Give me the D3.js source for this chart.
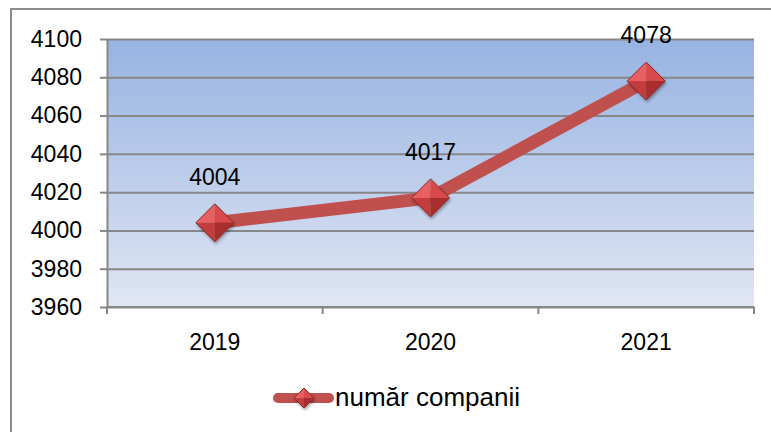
<!DOCTYPE html>
<html>
<head>
<meta charset="utf-8">
<script src="https://cdn.jsdelivr.net/npm/d3@7"></script>
<style>
  html, body { margin: 0; padding: 0; background: #fff; }
  svg { display: block; font-family: "Liberation Sans", Arial, sans-serif; }
</style>
</head>
<body>
<div id="chart"></div>
<script>
// data
var years = ["2019", "2020", "2021"];
var companies = [4004, 4017, 4078];
var yTicks = [3960, 3980, 4000, 4020, 4040, 4060, 4080, 4100];
var seriesName = "număr companii";

var width = 771, height = 432;
var plot = { left: 107, right: 754, top: 39, bottom: 307 };

var svg = d3.select("#chart").append("svg")
    .attr("width", width)
    .attr("height", height);

var defs = svg.append("defs");
// plot background gradient, darker blue at the top
var bg = defs.append("linearGradient").attr("id", "bg")
    .attr("x1", 0).attr("y1", 0).attr("x2", 0).attr("y2", 1);
bg.append("stop").attr("offset", "0%").attr("stop-color", "#97b3e2");
bg.append("stop").attr("offset", "100%").attr("stop-color", "#e0e6f3");

var shadow = defs.append("filter").attr("id", "shadow")
    .attr("x", "-30%").attr("y", "-30%").attr("width", "160%").attr("height", "160%");
shadow.append("feDropShadow").attr("dx", 1).attr("dy", 2)
    .attr("stdDeviation", 1.5).attr("flood-color", "#000").attr("flood-opacity", 0.35);

// scales
var x = d3.scaleBand().domain(years).range([plot.left, plot.right]);
var y = d3.scaleLinear().domain([3960, 4100]).range([plot.bottom, plot.top]);
var cx = function(d) { return x(d) + x.bandwidth() / 2; };

// outer chart frame (only top and left visible)
svg.append("path")
    .attr("d", "M11,432 V9 H771")
    .attr("fill", "none").attr("stroke", "#8c8c8c").attr("stroke-width", 2);

// plot area
svg.append("rect")
    .attr("x", plot.left).attr("y", plot.top)
    .attr("width", plot.right - plot.left).attr("height", plot.bottom - plot.top)
    .attr("fill", "url(#bg)");

// gridlines
svg.append("g")
    .attr("transform", "translate(" + plot.left + ",0)")
    .call(d3.axisLeft(y).tickValues(yTicks).tickSize(-(plot.right - plot.left)).tickFormat(""))
    .call(function(g) { g.select(".domain").remove(); })
    .selectAll("line").attr("stroke", "#878787").attr("stroke-width", 2);

// y axis
var yAxis = svg.append("g")
    .attr("transform", "translate(" + plot.left + ",0)")
    .call(d3.axisLeft(y).tickValues(yTicks).tickSize(7).tickSizeOuter(0).tickPadding(18).tickFormat(d3.format("d")));
yAxis.select(".domain").attr("stroke", "#878787").attr("stroke-width", 2);
yAxis.selectAll("line").attr("stroke", "#878787").attr("stroke-width", 2);
yAxis.selectAll("text").attr("font-size", 23).attr("fill", "#000")
    .attr("font-family", "'Liberation Sans', Arial, sans-serif");

// x axis, ticks between categories
var xAxis = svg.append("g");
xAxis.append("line")
    .attr("x1", plot.left).attr("x2", plot.right)
    .attr("y1", plot.bottom).attr("y2", plot.bottom)
    .attr("stroke", "#878787").attr("stroke-width", 2);
xAxis.selectAll(".xtick")
    .data(years.concat(["end"])).enter()
  .append("line")
    .attr("x1", function(d) { return d === "end" ? plot.right : x(d); })
    .attr("x2", function(d) { return d === "end" ? plot.right : x(d); })
    .attr("y1", plot.bottom).attr("y2", plot.bottom + 7)
    .attr("stroke", "#878787").attr("stroke-width", 2);
xAxis.selectAll(".xlabel")
    .data(years).enter()
  .append("text")
    .attr("x", cx).attr("y", plot.bottom + 43)
    .attr("text-anchor", "middle").attr("font-size", 23)
    .text(function(d) { return d; });

// diamond marker with a beveled look
function diamond(g, r) {
  var facets = [
    { d: [[-r, 0], [0, -r], [0, 0]], c: "#e86060" },
    { d: [[0, -r], [r, 0], [0, 0]], c: "#d84a4a" },
    { d: [[-r, 0], [0, 0], [0, r]], c: "#c43c3c" },
    { d: [[0, 0], [r, 0], [0, r]], c: "#a82e2e" }
  ];
  g.attr("filter", "url(#shadow)");
  g.selectAll("path.facet").data(facets).enter()
    .append("path").attr("class", "facet")
    .attr("d", function(f) { return "M" + f.d.join("L") + "Z"; })
    .attr("fill", function(f) { return f.c; });
  g.append("path")
    .attr("d", "M" + (-r) + ",0L0," + (-r) + "L" + r + ",0L0," + r + "Z")
    .attr("fill", "none").attr("stroke", "#8a2a2a").attr("stroke-width", 1);
}

// series line
var pts = years.map(function(d, i) { return { year: d, value: companies[i] }; });
svg.append("path")
    .datum(pts)
    .attr("d", d3.line().x(function(d) { return cx(d.year); }).y(function(d) { return y(d.value); }))
    .attr("fill", "none").attr("stroke", "#c0504d").attr("stroke-width", 13)
    .attr("stroke-linejoin", "round");

svg.selectAll(".marker")
    .data(pts).enter()
  .append("g")
    .attr("class", "marker")
    .attr("transform", function(d) { return "translate(" + cx(d.year) + "," + y(d.value) + ")"; })
    .each(function() { diamond(d3.select(this), 19); });

// data labels
svg.selectAll(".dlabel")
    .data(pts).enter()
  .append("text")
    .attr("x", function(d) { return cx(d.year); })
    .attr("y", function(d) { return y(d.value) - 38; })
    .attr("text-anchor", "middle").attr("font-size", 23)
    .text(function(d) { return d.value; });

// legend
var legend = svg.append("g").attr("transform", "translate(0,398)");
legend.append("line")
    .attr("x1", 278).attr("x2", 329).attr("y1", 0).attr("y2", 0)
    .attr("stroke", "#c0504d").attr("stroke-width", 10).attr("stroke-linecap", "round");
legend.append("g").attr("transform", "translate(304,0)")
    .each(function() { diamond(d3.select(this), 10); });
legend.append("text")
    .attr("x", 335).attr("y", 8)
    .attr("font-size", 26)
    .text(seriesName);
</script>
</body>
</html>
